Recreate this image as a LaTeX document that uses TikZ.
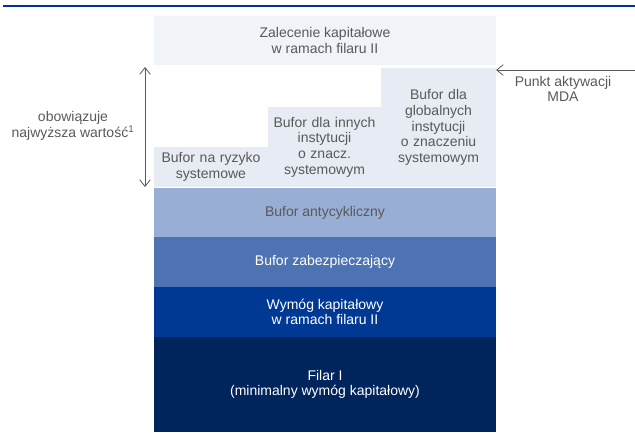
\documentclass[tikz,border=0pt]{standalone}
\usepackage{fontspec}
\setmainfont{Liberation Sans}
\usetikzlibrary{arrows.meta}

\definecolor{topblue}{RGB}{0,51,153}
\definecolor{filarblue}{RGB}{0,36,92}
\definecolor{wymogblue}{RGB}{0,57,148}
\definecolor{zabezblue}{RGB}{78,115,178}
\definecolor{antyblue}{RGB}{153,174,212}
\definecolor{buforfill}{RGB}{230,235,244}
\definecolor{zalfill}{RGB}{240,243,248}
\definecolor{textgray}{RGB}{89,89,89}

\tikzset{every picture/.style={line width=0.75pt}}
\tikzset{
  layer/.style={inner sep=0pt, outer sep=0pt, align=center, text=textgray,
    font=\fontsize{10.5}{11.8}\selectfont, minimum width=256.5pt},
  darklayer/.style={layer, text=white},
  bufbox/.style={layer, fill=buforfill, text width=82pt},
  dimarrow/.style={color={rgb, 255:red, 90; green, 90; blue, 90}, line width=0.6pt,
    {Straight Barb[length=5pt,width=8pt]}-{Straight Barb[length=5pt,width=8pt]}},
  sidelabel/.style={inner sep=0pt, align=center, text=textgray,
    font=\fontsize{10.5}{11.8}\selectfont}
}

\begin{document}
\begin{tikzpicture}[x=0.75pt,y=0.75pt,yscale=-1,xscale=1]
\useasboundingbox (0,0) rectangle (635,432);

%top rule
\draw [topblue, line width=1.7pt] (3,6) -- (635,6) ;

%Zalecenie
\node (zal) [layer, fill=zalfill, minimum height=36.75pt] at (325,40.5) {Zalecenie kapitałowe\\w ramach filaru II};

%Bufory
\node (ryzyko) [bufbox, minimum width=85.5pt, minimum height=30pt] at (211,167) {Bufor na ryzyko\\systemowe};
\node (innych) [bufbox, minimum width=84.75pt, minimum height=60pt] at (324.5,147) {Bufor dla innych\\instytucji\\o znacz.\\systemowym};
\node (global) [bufbox, minimum width=86.25pt, minimum height=89.25pt] at (438.5,127.5) {Bufor dla\\globalnych\\instytucji\\o znaczeniu\\systemowym};

%Warstwy
\node (anty) [layer, fill=antyblue, minimum height=36.75pt] at (325,212.5) {Bufor antycykliczny};
\node (zabez) [darklayer, fill=zabezblue, minimum height=37.5pt] at (325,262) {Bufor zabezpieczający};
\node (wymog) [darklayer, fill=wymogblue, minimum height=37.5pt] at (325,312) {Wymóg kapitałowy\\w ramach filaru II};
\node (filar) [darklayer, fill=filarblue, minimum height=71.25pt] at (325,384.5) {Filar I\\(minimalny wymóg kapitałowy)};

%Strzalka po lewej
\coordinate (dimtop) at (145,67);
\coordinate (dimbot) at (145,187);
\draw [dimarrow] (dimtop) -- (dimbot) ;
\node (najw) [sidelabel] at (73,126) {obowiązuje\\najwyższa wartość\textsuperscript{1}};

%Punkt aktywacji MDA
\coordinate (mdaend) at (635,70);
\draw [dimarrow, -{Straight Barb[length=5pt,width=8pt]}] (mdaend) -- (mdaend -| global.east) ;
\node (mda) [sidelabel] at (563,89) {Punkt aktywacji\\MDA};

\end{tikzpicture}
\end{document}
